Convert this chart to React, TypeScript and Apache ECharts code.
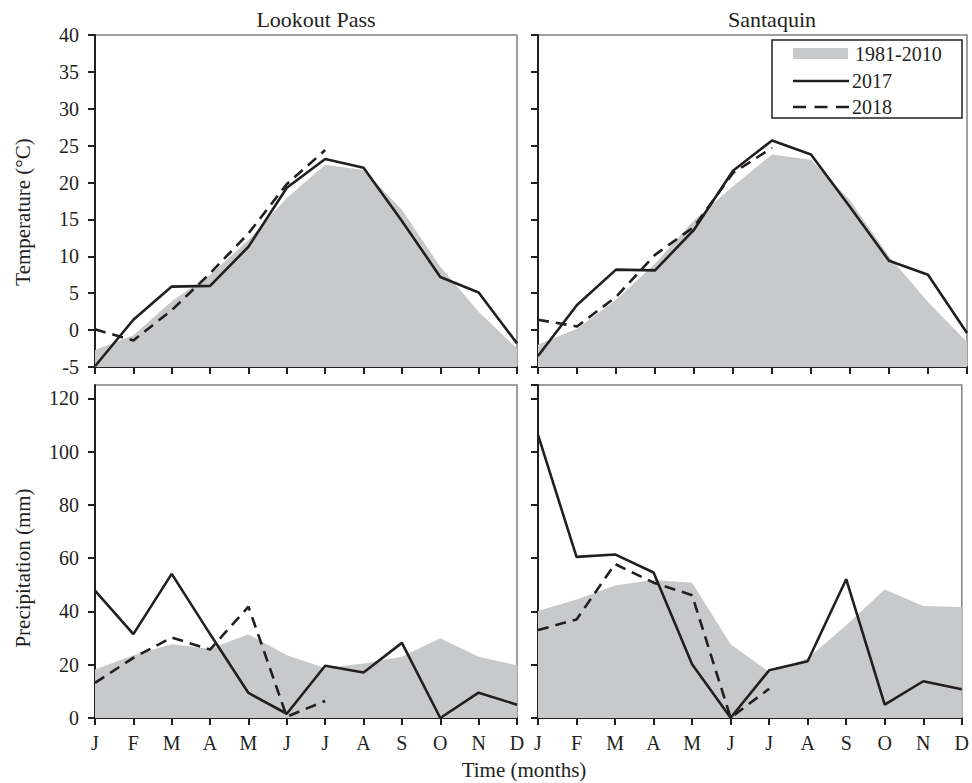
import React, { useEffect, useRef } from "react";
import * as echarts from "echarts";

const months = ["J", "F", "M", "A", "M", "J", "J", "A", "S", "O", "N", "D"];
const panelTitles = ["Lookout Pass", "Santaquin"];
const legendLabels = ["1981-2010", "2017", "2018"];

// Temperature (°C)
const lookoutTempNormal = [-2.7, -0.7, 3.9, 7.5, 12.2, 17.9, 22.4, 21.7, 16.3, 8.6, 2.5, -2.5];
const lookoutTemp2017 = [-4.9, 1.4, 5.9, 6.0, 11.3, 19.3, 23.2, 22.0, 14.8, 7.2, 5.1, -1.8];
const lookoutTemp2018 = [0.1, -1.4, 2.7, 7.7, 13.1, 19.8, 24.4, null, null, null, null, null];

const santaquinTempNormal = [-2.0, 0.2, 4.1, 9.0, 14.9, 19.5, 23.8, 23.1, 17.6, 10.0, 3.8, -1.6];
const santaquinTemp2017 = [-3.5, 3.4, 8.2, 8.1, 13.6, 21.6, 25.7, 23.8, 16.7, 9.4, 7.5, -0.4];
const santaquinTemp2018 = [1.4, 0.5, 4.5, 10.2, 14.0, 21.3, 24.7, null, null, null, null, null];

// Precipitation (mm)
const lookoutPrecNormal = [18.2, 23.6, 27.7, 26.0, 31.4, 23.6, 18.8, 20.5, 23.0, 29.9, 23.0, 19.8];
const lookoutPrec2017 = [47.8, 31.5, 54.1, 31.5, 9.4, 1.6, 19.6, 17.1, 28.2, 0.0, 9.5, 5.0];
const lookoutPrec2018 = [13.2, 22.6, 30.2, 25.7, 41.8, 0.5, 6.4, null, null, null, null, null];

const santaquinPrecNormal = [40.2, 44.5, 49.7, 51.8, 50.8, 27.7, 17.3, 22.3, 34.8, 48.2, 42.0, 41.7];
const santaquinPrec2017 = [106.3, 60.5, 61.4, 54.6, 20.2, 0.1, 17.9, 21.3, 52.1, 5.0, 13.8, 10.8];
const santaquinPrec2018 = [33.0, 37.0, 57.8, 50.8, 46.1, 0.1, 11.0, null, null, null, null, null];

const FONT = "Liberation Serif";
const INK = "#231f20";
const GRAY = "#c8c9cb";

export default function App() {
  const ref = useRef<HTMLDivElement>(null);

  useEffect(() => {
    if (!ref.current) return;
    const chart = echarts.init(ref.current, undefined, { renderer: "svg" });

    const grids = [
      { left: 95, top: 35, width: 422, height: 332 },
      { left: 538, top: 35, width: 429, height: 332 },
      { left: 95, top: 385, width: 422, height: 333 },
      { left: 538, top: 385, width: 429, height: 333 },
    ].map((g) => ({ ...g, show: true, borderColor: "#808080", borderWidth: 1.5, containLabel: false }));

    const xAxes = grids.map((_, i) => ({
      type: "category",
      gridIndex: i,
      data: months,
      boundaryGap: false,
      axisLine: { show: true, onZero: false, lineStyle: { color: INK, width: 2 } },
      axisTick: { show: true, alignWithLabel: true, interval: 0, length: 7, lineStyle: { color: INK, width: 2 } },
      axisLabel: {
        show: i >= 2,
        interval: 0,
        margin: 15,
        color: INK,
        fontFamily: FONT,
        fontSize: 20,
      },
      splitLine: { show: false },
    }));

    const yAxes = grids.map((_, i) => {
      const temp = i < 2;
      return {
        type: "value",
        gridIndex: i,
        min: temp ? -5 : 0,
        max: temp ? 40 : 125,
        interval: temp ? 5 : 20,
        axisLine: { show: true, onZero: false, lineStyle: { color: INK, width: 2 } },
        axisTick: { show: true, length: 7, lineStyle: { color: INK, width: 2 } },
        axisLabel: {
          show: i % 2 === 0,
          margin: 16,
          color: INK,
          fontFamily: FONT,
          fontSize: 20,
          showMaxLabel: temp,
          formatter: (v: number) => (!temp && v > 120 ? "" : String(v)),
        },
        splitLine: { show: false },
      };
    });

    const panels = [
      [lookoutTempNormal, lookoutTemp2017, lookoutTemp2018],
      [santaquinTempNormal, santaquinTemp2017, santaquinTemp2018],
      [lookoutPrecNormal, lookoutPrec2017, lookoutPrec2018],
      [santaquinPrecNormal, santaquinPrec2017, santaquinPrec2018],
    ];

    const series: any[] = [];
    panels.forEach((p, i) => {
      series.push({
        name: legendLabels[0],
        type: "line",
        xAxisIndex: i,
        yAxisIndex: i,
        data: p[0],
        showSymbol: false,
        symbol: "none",
        lineStyle: { width: 0, color: GRAY },
        itemStyle: { color: GRAY },
        areaStyle: { color: GRAY, opacity: 1, origin: "start" },
        z: 1,
      });
      series.push({
        name: legendLabels[1],
        type: "line",
        xAxisIndex: i,
        yAxisIndex: i,
        data: p[1],
        showSymbol: false,
        symbol: "none",
        lineStyle: { width: 2.6, color: INK, type: "solid" },
        itemStyle: { color: INK },
        z: 3,
      });
      series.push({
        name: legendLabels[2],
        type: "line",
        xAxisIndex: i,
        yAxisIndex: i,
        data: p[2],
        showSymbol: false,
        symbol: "none",
        connectNulls: false,
        lineStyle: { width: 2.6, color: INK, type: [11, 7] },
        itemStyle: { color: INK },
        z: 3,
      });
    });

    const textStyle = (text: string, size: number) => ({
      text,
      fill: INK,
      fontFamily: FONT,
      fontSize: size,
      align: "center",
      verticalAlign: "middle",
    });

    const graphic: any[] = [
      { type: "text", x: 316, y: 19, style: textStyle(panelTitles[0], 22) },
      { type: "text", x: 772, y: 19, style: textStyle(panelTitles[1], 22) },
      { type: "text", x: 23, y: 212, rotation: Math.PI / 2, style: textStyle("Temperature (°C)", 21) },
      { type: "text", x: 23, y: 568, rotation: Math.PI / 2, style: textStyle("Precipitation (mm)", 21) },
      { type: "text", x: 524, y: 770, style: textStyle("Time (months)", 21) },
      // legend
      {
        type: "rect",
        shape: { x: 772, y: 40, width: 190, height: 78 },
        style: { fill: "#fff", stroke: INK, lineWidth: 1.5 },
        z: 10,
      },
      { type: "rect", shape: { x: 793, y: 48, width: 55, height: 11 }, style: { fill: GRAY }, z: 11 },
      { type: "line", shape: { x1: 793, y1: 81, x2: 849, y2: 81 }, style: { stroke: INK, lineWidth: 2.6 }, z: 11 },
      {
        type: "line",
        shape: { x1: 793, y1: 107, x2: 849, y2: 107 },
        style: { stroke: INK, lineWidth: 2.6, lineDash: [13, 8.5] },
        z: 11,
      },
      { type: "text", x: 855, y: 54, style: { ...textStyle(legendLabels[0], 20), align: "left" }, z: 11 },
      { type: "text", x: 852, y: 81, style: { ...textStyle(legendLabels[1], 20), align: "left" }, z: 11 },
      { type: "text", x: 852, y: 107, style: { ...textStyle(legendLabels[2], 20), align: "left" }, z: 11 },
    ];

    chart.setOption({
      animation: false,
      backgroundColor: "#fff",
      textStyle: { fontFamily: FONT },
      grid: grids,
      xAxis: xAxes,
      yAxis: yAxes,
      series,
      graphic,
    });

    return () => chart.dispose();
  }, []);

  return (
    <div
      ref={ref}
      style={{ position: "absolute", left: 0, top: 0, width: 972, height: 783 }}
    />
  );
}
